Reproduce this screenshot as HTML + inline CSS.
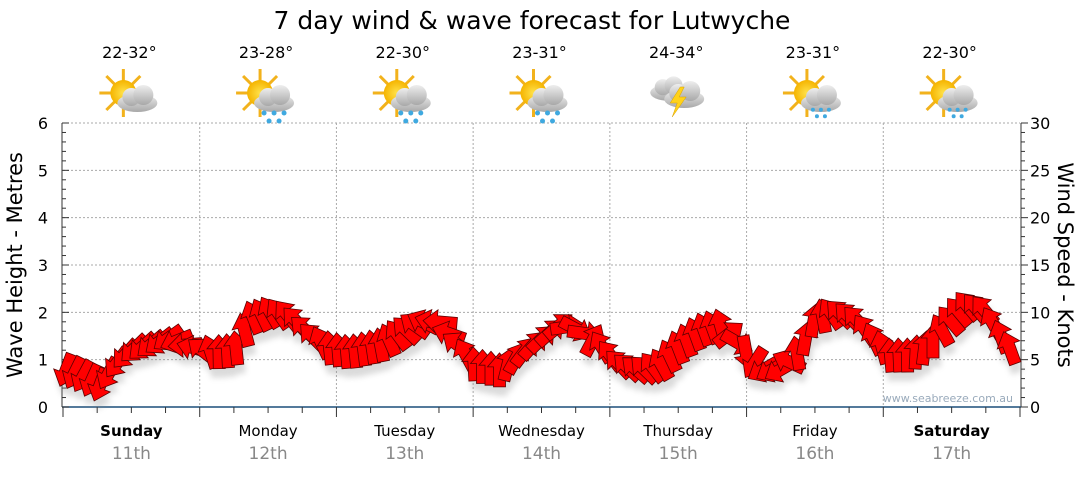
<!DOCTYPE html>
<html><head><meta charset="utf-8"><style>
body{margin:0;background:#fff;width:1080px;height:475px;overflow:hidden;font-family:"DejaVu Sans","Liberation Sans",sans-serif}
</style></head><body>
<svg id="s" width="1080" height="475" xmlns="http://www.w3.org/2000/svg" font-family="DejaVu Sans, Liberation Sans, sans-serif">
<defs>
<filter id="sh" x="-50%" y="-50%" width="200%" height="200%"><feGaussianBlur stdDeviation="3"/></filter>
<radialGradient id="sun" cx="50%" cy="50%" r="50%"><stop offset="0" stop-color="#ffe24a"/><stop offset="1" stop-color="#f5b400"/></radialGradient>
<linearGradient id="cl" x1="0" y1="0" x2="0" y2="1"><stop offset="0" stop-color="#eeeeee"/><stop offset="1" stop-color="#a8a8a8"/></linearGradient>
<g id="sunI"><g stroke="#f2b21c" stroke-width="3"><line x1="0" y1="-24" x2="0" y2="24"/><line x1="-24" y1="0" x2="24" y2="0"/><line x1="-17" y1="-17" x2="17" y2="17"/><line x1="-17" y1="17" x2="17" y2="-17"/></g><circle r="13" fill="url(#sun)"/></g>
<g id="cloudI"><ellipse cx="0" cy="4" rx="20" ry="9" fill="url(#cl)"/><circle cx="-6" cy="-2" r="9" fill="url(#cl)"/><circle cx="6" cy="-4" r="10" fill="url(#cl)"/></g>
<g id="rain" fill="#3fa9e0"><circle cx="-10" cy="16" r="2.5"/><circle cx="0" cy="16" r="2.5"/><circle cx="10" cy="16" r="2.5"/><circle cx="-5" cy="24" r="2.5"/><circle cx="5" cy="24" r="2.5"/></g>
</defs>
<text x="532" y="29" font-size="25" text-anchor="middle" fill="#000">7 day wind &amp; wave forecast for Lutwyche</text>
<g id="grid" stroke="#aaa" stroke-dasharray="2,2" stroke-width="1"></g>
<g id="axes"></g>
<g id="arrows"></g>
<text x="1013" y="402" font-size="11" fill="#99aabb" text-anchor="end">www.seabreeze.com.au</text>
<text transform="translate(22,265) rotate(-90)" font-size="21" text-anchor="middle">Wave Height - Metres</text>
<text transform="translate(1058,265) rotate(90)" font-size="21" text-anchor="middle">Wind Speed - Knots</text>
</svg>
<script>
var S=document.getElementById('s'),NS='http://www.w3.org/2000/svg';
function el(t,a,p){var e=document.createElementNS(NS,t);for(var k in a)e.setAttribute(k,a[k]);(p||S).appendChild(e);return e;}
var x0=63,x1=1020,yb=407,yt=123,dw=(x1-x0)/7;
var G=document.getElementById('grid'),A=document.getElementById('axes');
for(var i=1;i<=6;i++){var y=yb-i*(yb-yt)/6;el('line',{x1:x0,x2:x1,y1:y,y2:y},G);}
for(var i=1;i<=6;i++){var x=x0+i*dw;el('line',{x1:x,x2:x,y1:yt,y2:yb},G);}
el('line',{x1:62,x2:62,y1:yt,y2:yb,stroke:'#333'},A);
el('line',{x1:1021,x2:1021,y1:yt,y2:yb,stroke:'#333'},A);
el('line',{x1:62,x2:1021,y1:yb,y2:yb,stroke:'#1c4f7a','stroke-width':1.5},A);
for(var i=0;i<=30;i++){var y=yb-i*(yb-yt)/30,maj=i%5==0;
 el('line',{x1:62,x2:62+(maj?7:4),y1:y,y2:y,stroke:'#333'},A);
 el('line',{x1:1021,x2:1021+(maj?7:4),y1:y,y2:y,stroke:'#333'},A);
 if(maj){var t=el('text',{x:48,y:y+6,'font-size':16,'text-anchor':'end'},A);t.textContent=i/5;
 var t2=el('text',{x:1030,y:y+6,'font-size':16},A);t2.textContent=i;}}
for(var i=0;i<=28;i++){var x=x0+i*dw/4;el('line',{x1:x,x2:x,y1:yb,y2:yb+(i%4==0?10:6),stroke:'#333'},A);}
var days=['Sunday','Monday','Tuesday','Wednesday','Thursday','Friday','Saturday'],dates=['11th','12th','13th','14th','15th','16th','17th'],
temps=['22-32°','23-28°','22-30°','23-31°','24-34°','23-31°','22-30°'],ic=[0,1,1,1,2,3,3];
for(var d=0;d<7;d++){var cx=x0+dw*(d+0.5);
 var t=el('text',{x:cx,y:436,'font-size':15,'text-anchor':'middle','font-weight':(d==0||d==6)?'bold':'normal'});t.textContent=days[d];
 t=el('text',{x:cx,y:459,'font-size':17,'text-anchor':'middle',fill:'#888'});t.textContent=dates[d];
 t=el('text',{x:cx-2,y:58,'font-size':16,'text-anchor':'middle'});t.textContent=temps[d];
 var g=el('g',{transform:'translate('+(cx-2)+',97)'});
 if(ic[d]==2){el('use',{href:'#cloudI',transform:'translate(-8,-8) scale(0.9)'},g);el('use',{href:'#cloudI',transform:'translate(8,-2)'},g);
  el('polygon',{points:'4,-10 -6,6 1,6 -4,20 10,0 3,0 8,-10',fill:'#ffd21a',stroke:'#d9a000','stroke-width':0.5},g);}
 else{el('use',{href:'#sunI',transform:'translate(-6,-4)'},g);el('use',{href:'#cloudI',transform:'translate(8,2)'},g);
  if(ic[d]==1)el('use',{href:'#rain',transform:'translate(8,0)'},g);
  if(ic[d]==3)el('use',{href:'#rain',transform:'translate(8,0) scale(0.8)'},g);}
}
var K=[[65,370,200],[80,375,210],[100,385,200],[115,365,215],[130,350,225],[150,345,230],[170,338,235],[185,345,265],[200,350,300],[215,352,0],[235,350,355],[250,318,340],[270,312,330],[290,315,320],[310,335,310],[330,348,355],[350,352,355],[380,345,350],[400,333,320],[420,322,300],[440,322,275],[455,342,300],[475,365,0],[500,370,0],[520,355,35],[540,340,45],[560,325,50],[580,330,135],[600,345,330],[620,365,315],[640,370,310],[660,365,330],[680,345,340],[700,330,340],[720,325,340],[740,345,140],[760,370,240],[780,370,240],[800,350,10],[815,318,10],[835,312,315],[855,318,315],[870,335,330],[890,355,355],[910,355,0],[930,345,10],[945,325,320],[965,305,320],[985,310,320],[1000,335,340],[1015,355,340]];
function interp(x){for(var i=0;i<K.length-1;i++){if(x<=K[i+1][0]){var a=K[i],b=K[i+1],f=(x-a[0])/(b[0]-a[0]);var da=((b[2]-a[2]+540)%360)-180;return[a[1]+(b[1]-a[1])*f,a[2]+da*f];}}var l=K[K.length-1];return[l[1],l[2]];}
var AR=document.getElementById('arrows');
var pts='0,-17 12,-3 6,-3 6,17 -6,17 -6,-3 -12,-3';
var sg=el('g',{filter:'url(#sh)',opacity:0.3},AR);
var fg=el('g',{},AR);
for(var x=66;x<=1016;x+=8.5){var r=interp(x);
 el('polygon',{points:pts,transform:'translate('+(x+2)+','+(r[0]+9)+') rotate('+r[1]+')',fill:'#888'},sg);}
for(var x=66;x<=1016;x+=8.5){var r=interp(x);
 el('polygon',{points:pts,transform:'translate('+x+','+r[0]+') rotate('+r[1]+')',fill:'#ff0000',stroke:'#5a0000','stroke-width':0.8},fg);}
</script>
</body></html>
